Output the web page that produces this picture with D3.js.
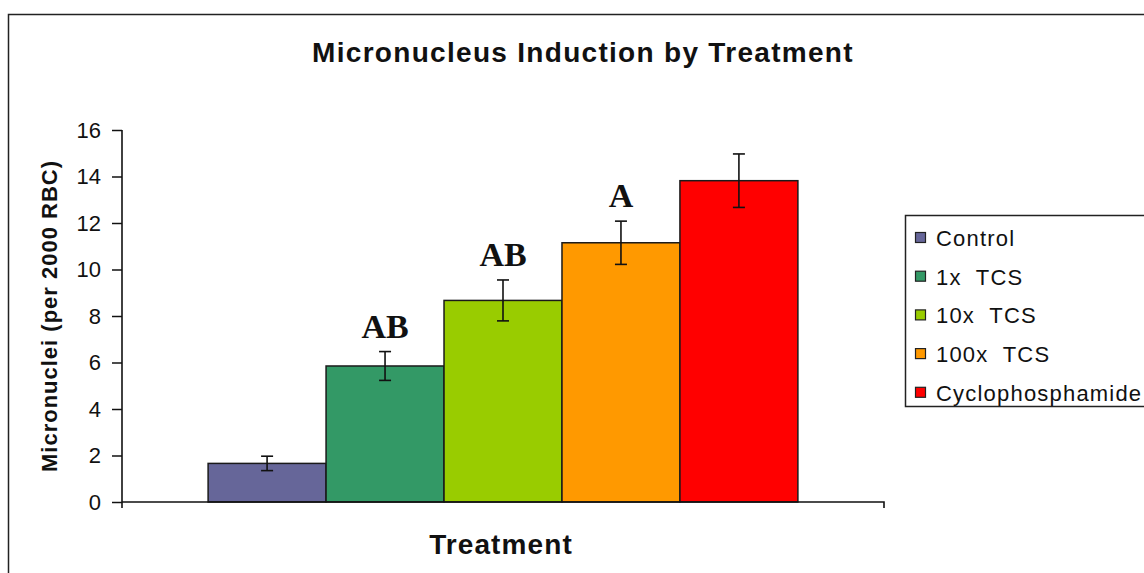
<!DOCTYPE html>
<html><head><meta charset="utf-8">
<script src="https://cdn.jsdelivr.net/npm/d3@7"></script>
<style>
html,body{margin:0;padding:0;background:#fff;}
svg{display:block;}
</style></head>
<body>
<svg id="chart" width="1144" height="573"></svg>
<script>
const categories = ["Control", "1x  TCS", "10x  TCS", "100x  TCS", "Cyclophosphamide"];
const values = [1.66, 5.85, 8.67, 11.15, 13.82];
const errors = [0.31, 0.62, 0.88, 0.93, 1.15];
const letters = ["", "AB", "AB", "A", ""];
const colors = ["#666699", "#339966", "#99CC00", "#FF9900", "#FF0000"];
const yTicks = [0, 2, 4, 6, 8, 10, 12, 14, 16];

const svg = d3.select("#chart");
const sans = "'Liberation Sans', Arial, sans-serif";
const serif = "'Liberation Serif', 'Times New Roman', serif";

// outer chart border
svg.append("rect").attr("x", 8.5).attr("y", 14.5).attr("width", 1160).attr("height", 600)
  .attr("fill", "#fff").attr("stroke", "#222").attr("stroke-width", 1.5);

const x = d3.scaleBand().domain(categories).range([122, 884]).paddingInner(0).paddingOuter(0.73);
const y = d3.scaleLinear().domain([0, 16]).range([502, 130]);

// title
svg.append("text").attr("x", 583).attr("y", 62).attr("text-anchor", "middle")
  .attr("font-family", sans).attr("font-weight", "bold").attr("font-size", 28)
  .attr("letter-spacing", 1.3).attr("fill", "#111")
  .text("Micronucleus Induction by Treatment");

// bars
svg.append("g").selectAll("rect").data(categories).join("rect")
  .attr("x", d => x(d)).attr("width", x.bandwidth())
  .attr("y", (d, i) => y(values[i])).attr("height", (d, i) => y(0) - y(values[i]))
  .attr("fill", (d, i) => colors[i]).attr("stroke", "#1a1a1a").attr("stroke-width", 1.5);

// error bars
const eg = svg.append("g").attr("stroke", "#111").attr("stroke-width", 1.6);
categories.forEach((c, i) => {
  const cx = x(c) + x.bandwidth() / 2;
  const top = y(values[i] + errors[i]), bot = y(values[i] - errors[i]);
  eg.append("line").attr("x1", cx).attr("x2", cx).attr("y1", top).attr("y2", bot);
  eg.append("line").attr("x1", cx - 6).attr("x2", cx + 6).attr("y1", top).attr("y2", top);
  eg.append("line").attr("x1", cx - 6).attr("x2", cx + 6).attr("y1", bot).attr("y2", bot);
});

// significance letters
svg.append("g").selectAll("text").data(categories).join("text")
  .attr("x", d => x(d) + x.bandwidth() / 2)
  .attr("y", (d, i) => y(values[i] + errors[i]) - 14)
  .attr("text-anchor", "middle").attr("font-family", serif).attr("font-weight", "bold")
  .attr("font-size", 34).attr("fill", "#111")
  .text((d, i) => letters[i]);

// y axis
const yAxis = svg.append("g").attr("transform", "translate(122,0)")
  .call(d3.axisLeft(y).tickValues(yTicks).tickSize(10).tickPadding(11).tickFormat(d3.format("d")));
yAxis.select(".domain").attr("stroke", "#111").attr("stroke-width", 1.6).attr("d", "M0,130V508");
yAxis.selectAll(".tick line").attr("stroke", "#111").attr("stroke-width", 1.5);
yAxis.selectAll(".tick text").attr("font-family", sans).attr("font-size", 22).attr("fill", "#111");

// x axis
const xAxis = svg.append("g").attr("transform", "translate(0,502)")
  .call(d3.axisBottom(x).tickSize(0).tickFormat(""));
xAxis.select(".domain").attr("stroke", "#111").attr("stroke-width", 1.6).attr("d", "M122,0H884V6");

// axis titles
svg.append("text").attr("transform", "translate(57,316) rotate(-90)").attr("text-anchor", "middle")
  .attr("font-family", sans).attr("font-weight", "bold").attr("font-size", 22)
  .attr("letter-spacing", 1).attr("fill", "#111").text("Micronuclei (per 2000 RBC)");
svg.append("text").attr("x", 501).attr("y", 554).attr("text-anchor", "middle")
  .attr("font-family", sans).attr("font-weight", "bold").attr("font-size", 28)
  .attr("letter-spacing", 1.1).attr("fill", "#111").text("Treatment");

// legend
svg.append("rect").attr("x", 905.5).attr("y", 215.5).attr("width", 260).attr("height", 191)
  .attr("fill", "#fff").attr("stroke", "#222").attr("stroke-width", 1.5);
const lg = svg.append("g").selectAll("g").data(categories).join("g")
  .attr("transform", (d, i) => `translate(915,${238 + i * 38.7})`);
lg.append("rect").attr("x", 0.5).attr("y", -5.5).attr("width", 10).attr("height", 10)
  .attr("fill", (d, i) => colors[i]).attr("stroke", "#222").attr("stroke-width", 1.2);
lg.append("text").attr("x", 21).attr("y", 0).attr("dy", "0.36em")
  .attr("font-family", sans).attr("font-size", 22).attr("letter-spacing", 1.2)
  .attr("fill", "#111").attr("xml:space", "preserve").style("white-space", "pre")
  .text(d => d);
</script>
</body></html>
